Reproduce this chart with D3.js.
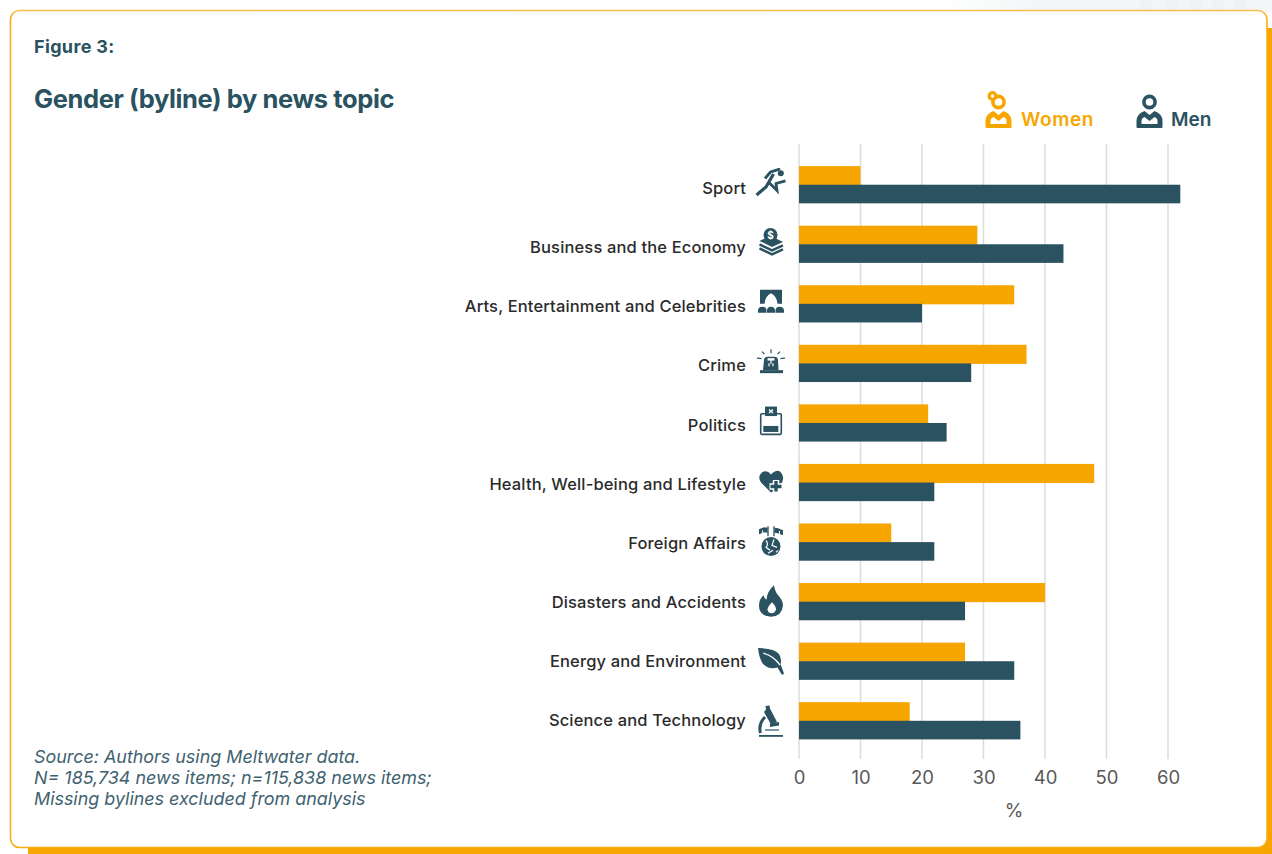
<!DOCTYPE html>
<html>
<head>
<meta charset="utf-8">
<script src="https://cdnjs.cloudflare.com/ajax/libs/d3/7.8.5/d3.min.js"></script>
<style>
  html, body { margin: 0; padding: 0; background: #fff; }
  svg { display: block; }
  text { font-family: "Inter", "Noto Sans", sans-serif; }
</style>
</head>
<body>
<svg id="chart" width="1272" height="854"></svg>
<script>
const topics = ["Sport", "Business and the Economy", "Arts, Entertainment and Celebrities", "Crime", "Politics",
  "Health, Well-being and Lifestyle", "Foreign Affairs", "Disasters and Accidents", "Energy and Environment", "Science and Technology"];
const women = [10, 29, 35, 37, 21, 48, 15, 40, 27, 18];
const men = [62, 43, 20, 28, 24, 22, 22, 27, 35, 36];
const xTicks = [0, 10, 20, 30, 40, 50, 60];
const sourceLines = ["Source: Authors using Meltwater data.", "N= 185,734 news items; n=115,838 news items;", "Missing bylines excluded from analysis"];

const TEAL = "#2a5260", ORANGE = "#f7a600";

// Topic pictograms, drawn around (0,0) in a box of roughly 32x32.
const icons = {
  "Sport": `<circle cx="9.8" cy="-8.8" r="3"/>
    <path d="M-6,-3.5 L-0.5,-10 L8,-12.6 L8.8,-12" fill="none" stroke-width="2.8"/>
    <path d="M2.5,-8 L-5,5 L-14.5,13" fill="none" stroke-width="3.2"/>
    <path d="M-1.5,1 L6,8.5 L5,1.5 L14.5,-1.2" fill="none" stroke-width="2.8"/>`,
  "Business and the Economy": `<circle cx="-0.5" cy="-7" r="7"/>
    <text x="-0.5" y="-3" text-anchor="middle" font-size="10" font-weight="700" fill="#fff" stroke="none">$</text>
    <path d="M-11.5,-1 L-6,-3.5 Q-0.5,1.5 5,-3.5 L12,0 L1,5 Z" />
    <path d="M-11.5,2.5 L1,8.5 L12,3.5 M-11.5,6.5 L1,12.5 L12,7.5" fill="none" stroke-width="2.4"/>`,
  "Arts, Entertainment and Celebrities": `<path d="M-11,-12 H11 V2 H6.5 Q6,-5.5 0,-8.5 Q-6,-5.5 -6.5,2 H-11 Z"/>
    <path d="M-13,11 V9 Q-13,5 -8.5,5 Q-4.5,5 -4.5,9 V11 Z M-4,11 V9 Q-4,5 0,5 Q4,5 4,9 V11 Z M4.5,11 V9 Q4.5,5 8.5,5 Q13,5 13,9 V11 Z"/>`,
  "Crime": `<path d="M-8,8.5 L-7,-2 Q-6.5,-5 -3.5,-5 H3.5 Q6.5,-5 7,-2 L7.5,8.5 Z"/>
    <rect x="-11" y="8.5" width="23" height="3"/>
    <rect x="-3.5" y="-3.5" width="7" height="2.4" fill="#fff" stroke="none"/>
    <path d="M0,-2 V2 M-2,1.5 V4.5 M2,1.5 V4.5" stroke="#fff" stroke-width="1.2" fill="none"/>
    <path d="M0,-12.5 V-8.5 M-9,-10 L-6.5,-7.5 M9,-10 L6.5,-7.5 M-14,-3.5 L-9.5,-3 M14,-3.5 L9.5,-3" fill="none" stroke-width="1.2"/>`,
  "Politics": `<rect x="-10.3" y="-7.8" width="20.6" height="20.6" rx="1" fill="#fff" stroke-width="1.6"/>
    <rect x="-6" y="-15" width="12" height="9.5"/>
    <path d="M-2,-12 L2,-8.5 M2,-12 L-2,-8.5" stroke="#fff" stroke-width="1.3" fill="none"/>
    <rect x="-7.7" y="4.4" width="15" height="6"/>`,
  "Health, Well-being and Lifestyle": `<path d="M0,11 L-10,1 Q-14,-5 -9,-9 Q-4,-12 0,-7 Q5,-12 9,-10 Q14,-6 11,1 L4,9 Z"/>
    <path d="M5,-1.5 V11 M-1.5,5 H11.5" stroke="#fff" stroke-width="6.5" fill="none"/>
    <path d="M5,-0.5 V10 M-0.5,5 H10.5" stroke-width="3.4" fill="none"/>`,
  "Foreign Affairs": `<circle cx="0" cy="5.2" r="9.5"/>
    <path d="M-5,-1 Q-2,3 -5,6 L-1,9 M3,-2 L1,4 L6,6 M-3,12 L2,9 M7,9 L5,11" stroke="#fff" stroke-width="1.2" fill="none"/>
    <path d="M-3,-5 V-15 M3,-5 V-15" fill="none" stroke-width="1.3"/>
    <path d="M-3.5,-13.5 L-7,-14 L-12,-12 V-7 L-7,-9 L-3.5,-8.5 Z M3.5,-13.5 L7,-13 L12,-11 V-6 L7,-8 L3.5,-8.5 Z"/>
    <path d="M-8.5,-11 V-8.5 M8.5,-10.5 V-7.5" stroke="#fff" stroke-width="1" fill="none"/>`,
  "Disasters and Accidents": `<path d="M3,-16 Q4,-9 8,-5 Q12,0 12,4 Q11,15 0,15.5 Q-12,15 -12,4 Q-12,-2 -7.5,-6 Q-7,-3 -4.5,-1.5 Q-4,-10 3,-16 Z"/>
    <path d="M1,1 Q5,5 5,8 Q4,12 0.5,12 Q-3,12 -3.5,8 Q-3,5 1,1 Z" fill="#fff" stroke="none"/>`,
  "Energy and Environment": `<path d="M-13,-13 Q3,-13 8,-7 Q11,-2 9.5,3 L13,12.5 L11,14 L6.5,6.5 Q-2,9 -8,3 Q-12,-3 -13,-13 Z"/>
    <path d="M-7.7,-8 Q3,-5 9,4" stroke="#fff" stroke-width="1.3" fill="none"/>`,
  "Science and Technology": `<path d="M-5.5,-15 L-1.5,-15.5 L-1,-12.5 L-0.5,-11.5 L6,1 L0,3.5 L-7,-9 L-5,-11.5 Z"/>
    <path d="M-6,-4 Q-13,3 -10.5,12" fill="none" stroke-width="3"/>
    <path d="M-1,2.5 L8,1 V4.5 L-1,6 Z"/>
    <rect x="-12" y="14" width="24" height="1.8"/>
    <path d="M-6,9 H8" fill="none" stroke-width="2" stroke="#7f9aa3"/>`
};

const svg = d3.select("#chart");
const defs = svg.append("defs");

const haze = defs.append("linearGradient").attr("id", "haze");
haze.append("stop").attr("offset", 0).attr("stop-color", "#f3f6f7").attr("stop-opacity", 0);
haze.append("stop").attr("offset", .3).attr("stop-color", "#f3f6f7").attr("stop-opacity", 1);

const edge = defs.append("linearGradient").attr("id", "edge").attr("gradientUnits", "userSpaceOnUse")
  .attr("x1", 0).attr("x2", 0).attr("y1", 10).attr("y2", 20);
edge.append("stop").attr("offset", 0).attr("stop-color", "#fbc04f");
edge.append("stop").attr("offset", 1).attr("stop-color", "#f8ad12");

// Pale page decoration peeking above the card
svg.append("rect").attr("x", 940).attr("y", 0).attr("width", 332).attr("height", 12).attr("fill", "url(#haze)");
svg.append("g").selectAll("circle").data([1146, 1172, 1196, 1218, 1240]).join("circle")
  .attr("cx", d => d).attr("cy", 6).attr("r", 7).attr("fill", "#eef2f3");

// Card with its offset orange backing.
svg.append("rect").attr("x", 28).attr("y", 28).attr("width", 1244).attr("height", 826).attr("fill", ORANGE);
svg.append("rect").attr("x", 10.5).attr("y", 10.5).attr("width", 1256.5).attr("height", 837).attr("rx", 9)
  .attr("fill", "#fff").attr("stroke", "url(#edge)").attr("stroke-width", 1.6);

// Heading
svg.append("text").attr("x", 34).attr("y", 53).attr("font-size", 18).attr("font-weight", 700)
  .attr("letter-spacing", .35).attr("fill", TEAL).text("Figure 3:");
svg.append("text").attr("x", 34).attr("y", 108).attr("font-size", 25.5).attr("font-weight", 700)
  .attr("letter-spacing", -.4).attr("fill", TEAL).text("Gender (byline) by news topic");

// Scales
const x = d3.scaleLinear().domain([0, 60]).range([799, 1168]);
const y = d3.scaleBand().domain(topics).range([144, 759]).paddingInner(.375).paddingOuter(.35).align(.53);
const labelY = d3.scalePoint().domain(topics).range([188, 720]);
const iconY = d3.scalePoint().domain(topics).range([182, 721]);
const half = y.bandwidth() / 2;

// Vertical gridlines and value axis
svg.append("g").selectAll("line").data(xTicks).join("line")
  .attr("x1", d => x(d)).attr("x2", d => x(d)).attr("y1", 144).attr("y2", 759)
  .attr("stroke", "#dcdcdc").attr("stroke-width", 1.5);

const axis = svg.append("g").attr("transform", "translate(0,759)")
  .call(d3.axisBottom(x).tickValues(xTicks).tickSize(0).tickPadding(12));
axis.select(".domain").remove();
axis.selectAll("text").attr("font-size", 18.5).attr("fill", "#595959").attr("font-family", "Inter, sans-serif");

svg.append("text").attr("x", 1014).attr("y", 817).attr("text-anchor", "middle")
  .attr("font-size", 19).attr("fill", "#595959").text("%");

// Bars: men sit just over the women's bar
svg.append("g").selectAll("rect").data(topics).join("rect")
  .attr("x", x(0)).attr("y", d => y(d)).attr("height", half + .5)
  .attr("width", (d, i) => x(women[i]) - x(0)).attr("fill", ORANGE);
svg.append("g").selectAll("rect").data(topics).join("rect")
  .attr("x", x(0)).attr("y", d => y(d) + half).attr("height", half)
  .attr("width", (d, i) => x(men[i]) - x(0)).attr("fill", TEAL);

// Topic labels
svg.append("g").selectAll("text").data(topics).join("text")
  .attr("x", 746).attr("y", d => labelY(d))
  .attr("dy", ".37em").attr("text-anchor", "end").attr("font-size", 16.5).attr("font-weight", 450)
  .attr("letter-spacing", .15).attr("fill", "#2b2b2b").text(d => d);

// Topic pictograms
svg.append("g").selectAll("g").data(topics).join("g")
  .attr("transform", d => `translate(771,${iconY(d)})`)
  .attr("fill", TEAL).attr("stroke", TEAL).attr("stroke-width", 0)
  .html(d => icons[d]);

// Legend
function person(cx, colour, female) {
  const g = svg.append("g").attr("transform", `translate(${cx},111)`).attr("fill", colour);
  g.append("path").attr("fill-rule", "evenodd")
    .attr("d", "M-13,16 Q-13,17 -12,17 H12 Q13,17 13,16 V10 Q13,3 5,0 L0,4 L-5,0 Q-13,3 -13,10 Z M-8,13 V10 Q-8,7 -5,6 L0,10 L5,6 Q8,7 8,10 V13 Z");
  g.append("circle").attr("cy", -9).attr("r", 5.6).attr("fill", "#fff").attr("stroke", colour).attr("stroke-width", 3.6);
  if (female) g.append("circle").attr("cx", -6).attr("cy", -15).attr("r", 3.4).attr("fill", "#fff").attr("stroke", colour).attr("stroke-width", 3.2);
}
person(998.5, ORANGE, true);
person(1149.5, TEAL, false);
svg.append("text").attr("x", 1021).attr("y", 126).attr("font-size", 19).attr("font-weight", 600)
  .attr("letter-spacing", .6).attr("fill", ORANGE).text("Women");
svg.append("text").attr("x", 1171).attr("y", 126).attr("font-size", 19).attr("font-weight", 600)
  .attr("fill", TEAL).text("Men");

// Source note
svg.append("g").selectAll("text").data(sourceLines).join("text")
  .attr("x", 34).attr("y", (d, i) => 763 + i * 21)
  .attr("font-size", 17.9).attr("font-style", "italic").attr("fill", "#3f6270").text(d => d);
</script>
</body>
</html>
